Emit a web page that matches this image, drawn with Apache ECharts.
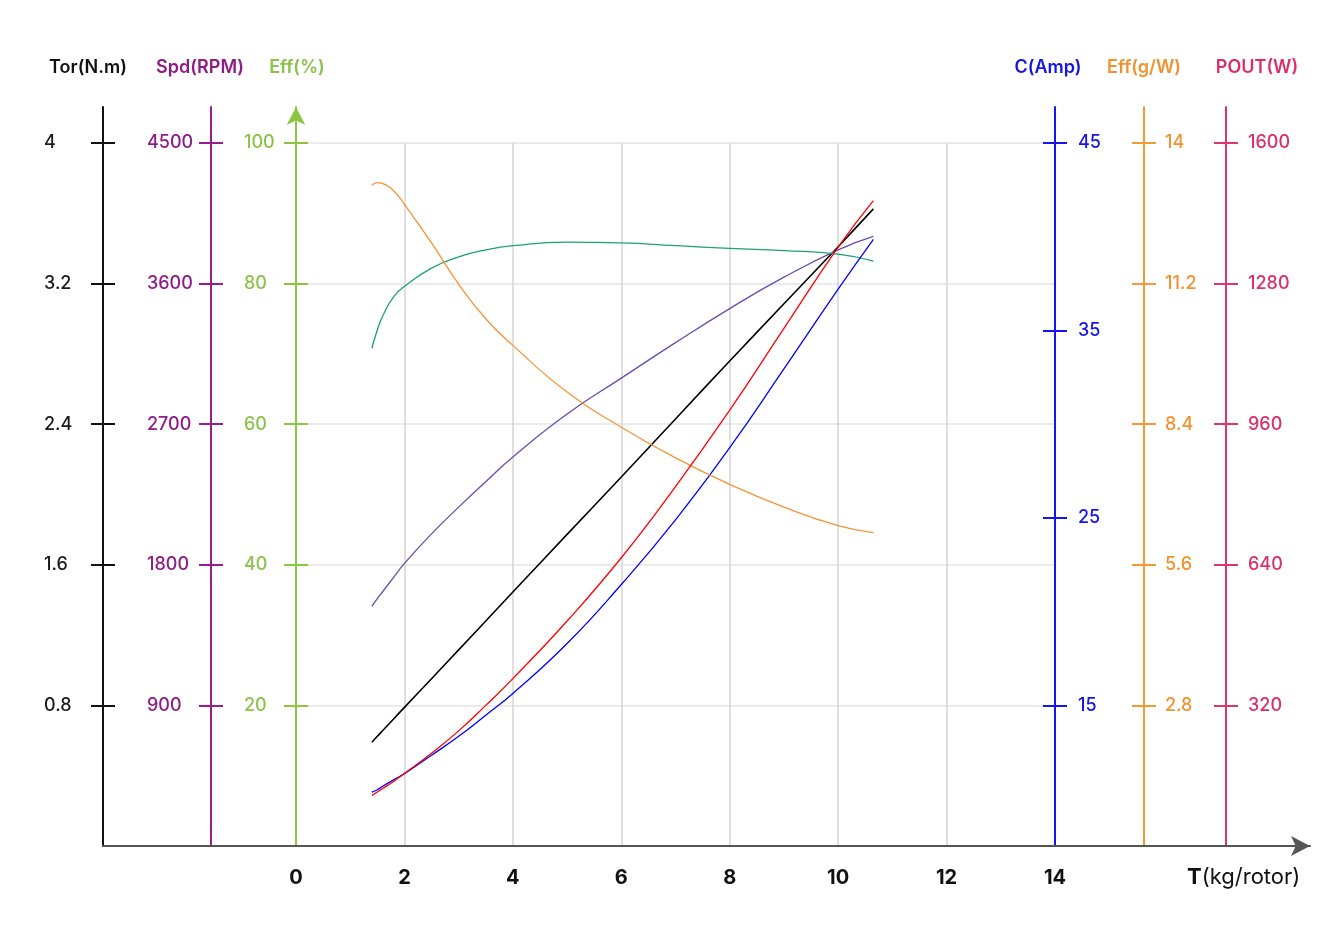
<!doctype html>
<html>
<head>
<meta charset="utf-8">
<title>Motor test</title>
<script src="https://cdn.jsdelivr.net/npm/echarts@6/dist/echarts.min.js"></script>
<style>
    html, body {margin: 0; padding: 0; background: #fff;}
    #chart {width: 1326px; height: 932px;}
</style>
</head>
<body>
<div id="chart"></div>
<script>
    // thrust (kg/rotor) sample points
    const thrust = [1.4, 1.5, 1.6, 1.8, 2, 2.5, 3, 3.5, 4, 5, 6, 7, 8, 9, 10, 10.65];
    const torque = [0.59, 0.624, 0.657, 0.723, 0.789, 0.952, 1.116, 1.28, 1.445, 1.773, 2.1, 2.43, 2.76, 3.085, 3.41, 3.625];
    const speed = [1535, 1584, 1629, 1719, 1809, 1998, 2169, 2332, 2490, 2765, 2995, 3222, 3440, 3641, 3816, 3902];
    const effPct = [70.8, 73.4, 75.4, 78.1, 79.6, 82.2, 83.8, 84.8, 85.4, 85.9, 85.8, 85.4, 85.0, 84.7, 84.2, 83.2];
    const current = [10.37, 10.5, 10.69, 11.03, 11.36, 12.34, 13.35, 14.48, 15.64, 18.3, 21.45, 24.9, 28.75, 32.95, 37.2, 39.86];
    const effGW = [13.16, 13.21, 13.19, 13.05, 12.78, 12.01, 11.19, 10.5, 9.97, 9.04, 8.34, 7.73, 7.2, 6.75, 6.38, 6.24];
    const power = [115, 123, 131, 147, 165, 211, 262, 320, 381, 512, 656, 818, 992, 1178, 1363, 1469];

    // tick labels
    const torTicks = [0.8, 1.6, 2.4, 3.2, 4];
    const spdTicks = [900, 1800, 2700, 3600, 4500];
    const effTicks = [20, 40, 60, 80, 100];
    const ampTicks = [15, 25, 35, 45];
    const gwTicks = [2.8, 5.6, 8.4, 11.2, 14];
    const poutTicks = [320, 640, 960, 1280, 1600];

    const FONT = 'Inter';

    const axes = [
        {name: 'Tor(N.m)', pos: 'left', offset: 193, min: 0, max: 4, ticks: torTicks, color: '#111111', text: '#1a1a1a', nameColor: '#111', margin: 59, pad: [0, 30, 0, 0]},
        {name: 'Spd(RPM)', pos: 'left', offset: 85, min: 0, max: 4500, ticks: spdTicks, color: '#9a1b8e', text: '#8e1c86', nameColor: '#8e1c86', margin: 64, pad: [0, 22, 0, 0]},
        {name: 'Eff(%)', pos: 'left', offset: 0, min: 0, max: 100, ticks: effTicks, color: '#8dc641', text: '#8bc34a', nameColor: '#8bc34a', margin: 52, pad: [0, 0, 0, 2]},
        {name: 'C(Amp)', pos: 'right', offset: 0, min: 7.5, max: 45, ticks: ampTicks, color: '#1414f0', text: '#1414e6', nameColor: '#1414e6', margin: 23, pad: [0, 14, 0, 0]},
        {name: 'Eff(g/W)', pos: 'right', offset: 89, min: 0, max: 14, ticks: gwTicks, color: '#f39a32', text: '#f0922e', nameColor: '#f0922e', margin: 21, pad: [0, 0, 0, 0]},
        {name: 'POUT(W)', pos: 'right', offset: 171, min: 0, max: 1600, ticks: poutTicks, color: '#e0336f', text: '#dc2f6a', nameColor: '#dc2f6a', margin: 22, pad: [0, 0, 0, 62]}
    ];

    let yAxes = [];
    // labelled axes with outside ticks
    axes.forEach(function (a, i) {
        let ax = {
            type: 'value', gridIndex: 0, position: a.pos, offset: a.offset, min: a.min, max: a.max,
            axisLine: {show: false, onZero: false},
            axisTick: {show: true, inside: false, length: 12, customValues: a.ticks, lineStyle: {color: a.color, width: 2}},
            axisLabel: {
                customValues: a.ticks, margin: a.margin, align: 'left', color: a.text,
                fontSize: 18, fontFamily: FONT, fontWeight: 500,
                formatter: function (v) { return String(v); }
            },
            splitLine: {show: false}
        };
        if (i === 2) {
            ax.interval = 20;
            ax.splitLine = {show: true, lineStyle: {color: '#e4e4e4', width: 1.5}};
        }
        yAxes.push(ax);
    });
    // inside ticks (so every tick crosses the line)
    axes.forEach(function (a) {
        yAxes.push({
            type: 'value', gridIndex: 0, position: a.pos, offset: a.offset, min: a.min, max: a.max,
            axisLine: {show: false, onZero: false},
            axisTick: {show: true, inside: true, length: 12, customValues: a.ticks, lineStyle: {color: a.color, width: 2}},
            axisLabel: {show: false},
            splitLine: {show: false}
        });
    });
    // the long axis lines and their names
    axes.forEach(function (a, i) {
        yAxes.push({
            type: 'value', gridIndex: 1, position: a.pos, offset: a.offset, min: 0, max: 1,
            name: a.name, nameLocation: 'end', nameGap: 30,
            nameTextStyle: {color: a.nameColor, fontSize: 18, fontWeight: 600, fontFamily: FONT, padding: a.pad},
            axisLine: {
                show: true, onZero: false, lineStyle: {color: a.color, width: 2},
                symbol: i === 2 ? ['none', 'arrow'] : 'none', symbolSize: [14, 18]
            },
            axisTick: {show: false}, axisLabel: {show: false}, splitLine: {show: false}
        });
    });
    yAxes.push({type: 'value', gridIndex: 2, show: false, min: 0, max: 1});

    const colors = ['#000000', '#6a4cae', '#1ba36f', '#0000ff', '#f39437', '#ff0000'];
    const values = [torque, speed, effPct, current, effGW, power];
    const names = ['Tor', 'Spd', 'Eff', 'C', 'Eff g/W', 'POUT'];

    let series = values.map(function (v, i) {
        return {
            name: names[i], type: 'line', xAxisIndex: 0, yAxisIndex: i,
            smooth: 0.5, showSymbol: false, symbol: 'none',
            lineStyle: {color: colors[i], width: i === 0 ? 1.6 : 1.3},
            data: thrust.map(function (t, k) { return [t, v[k]]; })
        };
    });

    let chart = echarts.init(document.getElementById('chart'));
    chart.setOption({
        animation: false,
        grid: [
            {left: 296, right: 271, top: 143, bottom: 86},
            {left: 296, right: 271, top: 107, bottom: 86},
            {left: 103, right: 16, top: 107, bottom: 86}
        ],
        xAxis: [
            {
                type: 'value', gridIndex: 0, min: 0, max: 14, interval: 2,
                axisLine: {show: false, onZero: false}, axisTick: {show: false},
                axisLabel: {margin: 22, color: '#111', fontSize: 20, fontWeight: 700, fontFamily: FONT},
                splitLine: {show: true, lineStyle: {color: '#d4d4d4', width: 1.5}}
            },
            {type: 'value', gridIndex: 1, show: false, min: 0, max: 1},
            {
                type: 'value', gridIndex: 2, min: 0, max: 1,
                axisLine: {show: true, onZero: false, lineStyle: {color: '#555', width: 2}, symbol: ['none', 'arrow'], symbolSize: [15, 19]},
                axisTick: {show: false}, axisLabel: {show: false}, splitLine: {show: false},
                name: '{b|T}{n|(kg/rotor)}', nameLocation: 'end', nameGap: -123,
                nameTextStyle: {
                    verticalAlign: 'top', padding: [20, 0, 0, 0],
                    rich: {
                        b: {fontSize: 22, fontWeight: 700, color: '#111', fontFamily: FONT},
                        n: {fontSize: 22, fontWeight: 400, color: '#111', fontFamily: FONT}
                    }
                }
            }
        ],
        yAxis: yAxes,
        series: series
    });

    window.onresize = function () {
        chart.resize();
    };
</script>
</body>
</html>
